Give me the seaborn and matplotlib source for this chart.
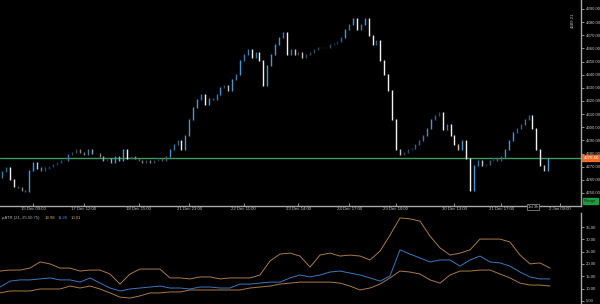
import numpy as np
import pandas as pd
import matplotlib
matplotlib.use("Agg")
import matplotlib.pyplot as plt
import matplotlib.colors as mcolors
import seaborn as sns

# ---------------- data ----------------
first_open = 4262
closes = [4266, 4269, 4260, 4255, 4254, 4252, 4251, 4267, 4273, 4269,
          4267, 4269, 4270, 4272, 4273, 4275, 4275, 4279, 4281, 4283,
          4281, 4279, 4283, 4280, 4280, 4278, 4275, 4276, 4273, 4278,
          4275, 4283, 4276, 4278, 4276, 4275, 4273, 4275, 4273, 4275,
          4276, 4275, 4278, 4283, 4287, 4290, 4283, 4294, 4306, 4315,
          4321, 4325, 4317, 4322, 4321, 4325, 4330, 4332, 4328, 4336,
          4340, 4351, 4355, 4359, 4353, 4357, 4351, 4332, 4347, 4355,
          4363, 4368, 4372, 4355, 4359, 4355, 4357, 4353, 4355, 4357,
          4359, 4361, 4361, 4361, 4363, 4364, 4365, 4368, 4374, 4378,
          4383, 4374, 4378, 4383, 4370, 4363, 4366, 4351, 4340, 4328,
          4306, 4283, 4279, 4281, 4283, 4284, 4287, 4290, 4294, 4299,
          4306, 4309, 4311, 4298, 4302, 4294, 4287, 4283, 4290, 4276,
          4252, 4271, 4275, 4271, 4272, 4275, 4276, 4275, 4278, 4283,
          4290, 4296, 4299, 4302, 4306, 4309, 4299, 4283, 4271, 4267,
          4276]
price_ticks = [4390, 4380, 4370, 4360, 4350, 4340, 4330, 4320, 4310,
               4300, 4290, 4280, 4270, 4260, 4250]
bid_price = 4276.6
bid_label = "4276.60"
time_tick_pos = [8, 21, 35, 48, 62, 76, 89, 101, 116, 128, 143]
time_tick_labels = ["15 Dec 09:00", "17 Dec 12:00", "18 Dec 15:00", "21 Dec 23:00",
                    "22 Dec 11:00", "23 Dec 14:00", "24 Dec 17:00", "29 Dec 10:00",
                    "30 Dec 13:00", "31 Dec 17:00", "2 Jan 09:00"]

atr_upper = [17.1, 17.5, 17.5, 18.3, 20.8, 20.0, 18.3, 18.3, 17.1, 17.5,
             17.5, 15.9, 11.8, 15.9, 17.9, 17.9, 17.9, 14.3, 14.3, 13.9,
             14.7, 14.7, 13.9, 14.3, 14.3, 14.3, 15.5, 21.2, 24.0, 24.4,
             23.2, 18.7, 23.6, 24.4, 23.2, 23.6, 23.2, 21.6, 25.2, 31.7,
             38.7, 38.3, 37.4, 31.3, 26.5, 23.6, 24.4, 25.7, 30.1, 30.1,
             30.1, 28.9, 23.6, 20.0, 20.4, 18.3]
atr_mid = [10.6, 13.0, 13.5, 13.5, 13.9, 14.3, 13.5, 13.5, 12.6, 14.3,
           12.2, 10.2, 9.0, 9.8, 10.2, 10.6, 11.0, 10.2, 10.2, 9.8,
           10.6, 10.6, 10.2, 10.2, 11.8, 11.8, 12.2, 12.6, 12.6, 14.3,
           15.5, 14.7, 15.5, 16.7, 17.1, 16.3, 15.5, 14.3, 13.0, 15.1,
           25.7, 24.0, 22.4, 20.8, 21.6, 21.6, 19.1, 21.6, 23.2, 20.8,
           20.4, 19.1, 16.7, 14.7, 13.9, 13.9]
atr_lower = [8.2, 9.0, 9.0, 9.0, 9.8, 9.8, 9.8, 11.0, 10.2, 11.0,
             9.8, 8.2, 6.5, 6.1, 7.0, 8.2, 8.2, 8.6, 8.6, 9.4,
             9.4, 9.4, 9.4, 9.4, 9.4, 10.2, 10.6, 11.0, 11.8, 12.2,
             12.6, 12.6, 12.6, 12.6, 12.2, 11.0, 9.4, 10.2, 11.8, 14.3,
             17.1, 16.7, 15.9, 13.5, 12.2, 15.5, 17.1, 17.1, 17.5, 17.5,
             15.9, 14.3, 12.2, 11.4, 11.4, 11.0]
atr_ticks = [35, 30, 25, 20, 15, 10, 5]
atr_title = "\u00b5ATR (21, 25.50.75)"
atr_values = ["18.98", "11.26", "10.01"]

# ---------------- style ----------------
sns.set_theme(style="dark", rc={"axes.facecolor": "black", "figure.facecolor": "black",
                                "axes.grid": False})
plt.rcParams['font.family'] = ['Liberation Sans', 'DejaVu Sans']

W, H = 600, 304
fig = plt.figure(figsize=(W / 100, H / 100), dpi=100, facecolor="black")
ax = fig.add_axes([0, 1 - 206 / H, 581 / W, 206 / H])
ax2 = fig.add_axes([0, 0, 581 / W, 91 / H])
for a in (ax, ax2):
    a.set_facecolor("black")

axis_col = "#a8a8a8"
text_col = "#c4c4c4"
fs = 3.1

# ---------------- main price panel ----------------
x = np.arange(len(closes))
c = np.array(closes, dtype=float)
o = np.concatenate([[first_open], c[:-1]])
lo = np.minimum(o, c) - 0.4
hi = np.maximum(o, c) + 0.4
cols = []
for oo, cc in zip(o, c):
    base = "#4b95cf" if cc >= oo else "#f2f2f2"
    alpha = float(np.clip(0.25 + abs(cc - oo) / 7.0, 0.25, 1.0))
    rgb = np.array(mcolors.to_rgb(base)) * alpha
    cols.append(tuple(rgb))
ax.vlines(x, lo, hi, colors=cols, linewidth=1.0)

ax.axhline(bid_price, color="#3f9a5f", lw=1.0, zorder=1)

ax.set_xlim(-0.513, 148.46)
ax.set_ylim(4240.1, 4396.8)
ax.yaxis.tick_right()
ax.set_yticks(price_ticks)
ax.set_yticklabels([f"{v:.2f}" for v in price_ticks])
ax.set_xticks(time_tick_pos)
ax.set_xticklabels(time_tick_labels)
ax.tick_params(axis="y", colors=axis_col, labelcolor=text_col, labelsize=fs,
               length=2.5, width=0.6, pad=0.8, right=True, left=False)
ax.tick_params(axis="x", colors=axis_col, labelcolor=text_col, labelsize=fs,
               length=2, width=0.6, pad=1, direction="in", bottom=True)
for s in ("top", "left"):
    ax.spines[s].set_visible(False)
ax.spines["right"].set_color(axis_col)
ax.spines["right"].set_linewidth(1)
ax.spines["bottom"].set_color(axis_col)
ax.spines["bottom"].set_linewidth(1)

# price label boxes on the right
fig.text(583.5 / W, 1 - 158 / H, bid_label, color="white", fontsize=fs, va="center", ha="left",
         bbox=dict(boxstyle="square,pad=0.3", fc="#f06a2a", ec="#f06a2a"), zorder=5)
fig.text(584 / W, 1 - 201 / H, "Range", color="#0a2a10", fontsize=fs, va="center", ha="left",
         bbox=dict(boxstyle="square,pad=0.3", fc="#1f9a45", ec="#1f9a45"), zorder=5)
fig.text(533 / W, 1 - 207 / H, "1d 3h", color=text_col, fontsize=fs, va="center", ha="center",
         bbox=dict(boxstyle="square,pad=0.3", fc="black", ec="#808080", lw=0.6), zorder=5)
fig.text(573 / W, 1 - 20 / H, "4389.21", color=text_col, fontsize=fs, rotation=90,
         va="center", ha="center")

# ---------------- ATR panel ----------------
k = np.arange(len(atr_mid))
df = pd.DataFrame({"k": np.concatenate([k, k, k]),
                   "v": atr_upper + atr_mid + atr_lower,
                   "s": ["upper"] * len(k) + ["mid"] * len(k) + ["lower"] * len(k)})
sns.lineplot(data=df, x="k", y="v", hue="s",
             palette={"upper": "#a87a48", "mid": "#3a78bd", "lower": "#a87a48"},
             linewidth=0.7, ax=ax2, legend=False)
ax2.set_xlim(0, 58.1)
ax2.set_ylim(3.7, 40.7)
ax2.set_xlabel("")
ax2.set_ylabel("")
ax2.set_xticks([])
ax2.yaxis.tick_right()
ax2.set_yticks(atr_ticks)
ax2.set_yticklabels([f"{v:.2f}" for v in atr_ticks])
ax2.tick_params(axis="y", colors=axis_col, labelcolor=text_col, labelsize=fs,
                length=2.5, width=0.6, pad=0.8, right=True, left=False)
for s in ("top", "left", "bottom"):
    ax2.spines[s].set_visible(False)
ax2.spines["right"].set_color(axis_col)
ax2.spines["right"].set_linewidth(1)

ty = 1 - 218 / H
fig.text(2 / W, ty, atr_title, color="#b0b0b0", fontsize=fs, va="center", ha="left")
fig.text(45 / W, ty, atr_values[0], color="#e0a050", fontsize=fs, va="center", ha="left")
fig.text(58 / W, ty, atr_values[1], color="#4a8fd0", fontsize=fs, va="center", ha="left")
fig.text(71 / W, ty, atr_values[2], color="#e0a050", fontsize=fs, va="center", ha="left")

fig.savefig("out.png", dpi=100, facecolor="black")
